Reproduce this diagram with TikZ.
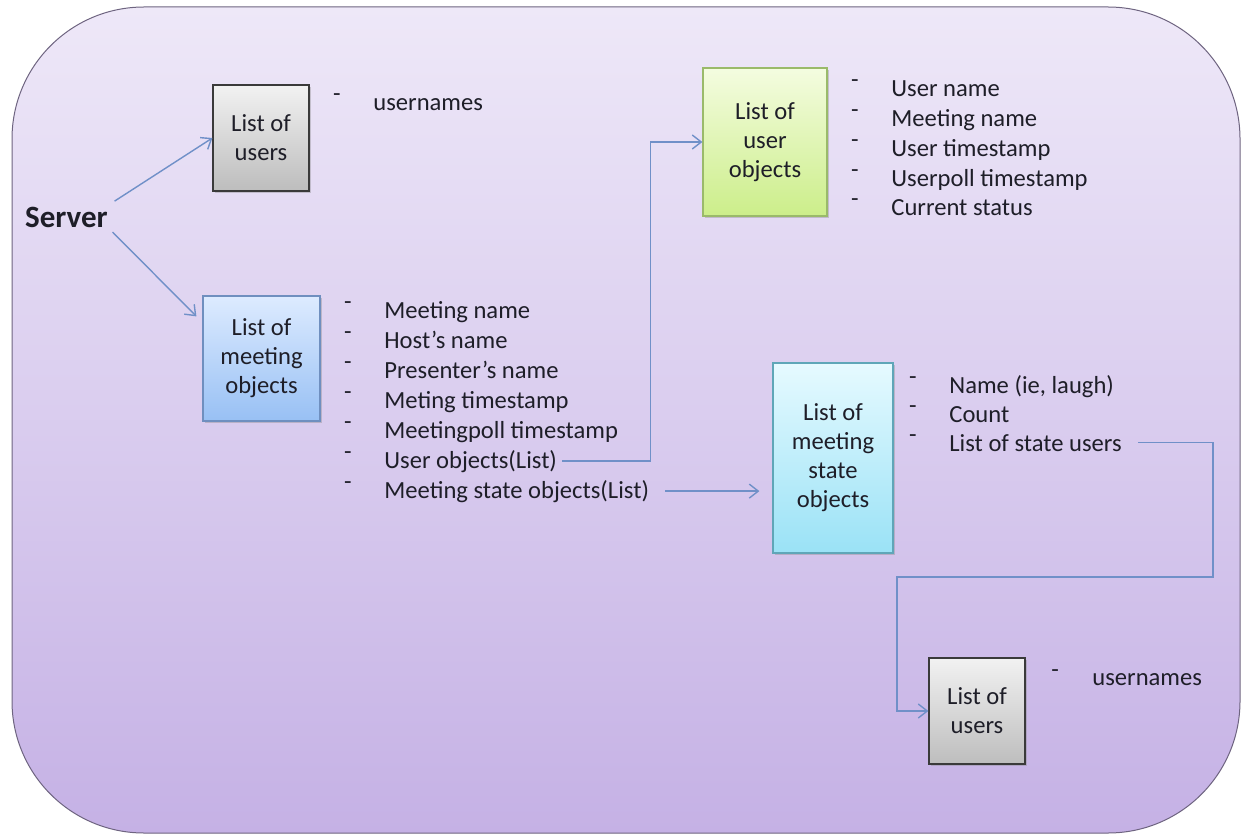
\documentclass[tikz,border=0pt]{standalone}
\usepackage{fontspec}
\setmainfont{Carlito}
\usetikzlibrary{arrows.meta,shadows,calc}
\definecolor{bgtop}{HTML}{EEE8F8}
\definecolor{bgbot}{HTML}{C5B1E5}
\definecolor{bgline}{HTML}{6E6480}
\definecolor{conncol}{HTML}{7090C8}
\definecolor{txtcol}{HTML}{1E1E28}
\definecolor{graytop}{HTML}{F2F2F2}
\definecolor{graybot}{HTML}{BDBDBD}
\definecolor{grayline}{HTML}{3A3A3A}
\definecolor{bluetop}{HTML}{DDEBFF}
\definecolor{bluebot}{HTML}{98C0F4}
\definecolor{blueline}{HTML}{6F8FBF}
\definecolor{greentop}{HTML}{F4FCE0}
\definecolor{greenbot}{HTML}{CCEE8A}
\definecolor{greenline}{HTML}{9ABA6A}
\definecolor{cyantop}{HTML}{E6FAFF}
\definecolor{cyanbot}{HTML}{9AE2F6}
\definecolor{cyanline}{HTML}{5FA6B8}
\begin{document}
\begin{tikzpicture}[x=0.5pt,y=-0.5pt,
  every node/.style={text=txtcol, font=\fontsize{12.3}{14.5}\selectfont},
  objbox/.style={rectangle, align=center, inner sep=0pt, line width=0.6pt,
    drop shadow={shadow xshift=1.2pt, shadow yshift=-1.2pt, opacity=0.35}},
  graybox/.style={objbox, draw=grayline, top color=graytop, bottom color=graybot},
  bluebox/.style={objbox, draw=blueline, top color=bluetop, bottom color=bluebot},
  greenbox/.style={objbox, draw=greenline, top color=greentop, bottom color=greenbot},
  cyanbox/.style={objbox, draw=cyanline, top color=cyantop, bottom color=cyanbot},
  item/.style={anchor=base west, inner sep=0pt},
  dashmark/.style={anchor=base, inner sep=0pt},
  conn/.style={draw=conncol, line width=0.7pt, -{Straight Barb[length=4.5pt,width=7pt]}},
  plainconn/.style={draw=conncol, line width=0.7pt}
]
\useasboundingbox (0,0) rectangle (1241,834);
\shadedraw[top color=bgtop, bottom color=bgbot, draw=bgline, line width=0.5pt,
  rounded corners=66pt] (12,7) rectangle (1240,833);

% Server
\node[font=\bfseries\fontsize{15.5}{18}\selectfont, inner sep=1.5pt] (server) at (66.5,217) {Server};

% Boxes
\node[graybox, minimum width=48pt, minimum height=53pt] (users1) at (261,138) {List of\\users};
\node[bluebox, minimum width=58.5pt, minimum height=62.5pt] (meet) at (261.5,358.5) {List of\\meeting\\objects};
\node[greenbox, minimum width=62pt, minimum height=74pt] (uobj) at (765,142) {List of\\user\\objects};
\node[cyanbox, minimum width=60pt, minimum height=95pt] (state) at (833,458) {List of\\meeting\\state\\objects};
\node[graybox, minimum width=48pt, minimum height=53pt] (users2) at (977,711) {List of\\users};

% Lists
\node[dashmark] (ud1) at (337,102) {-};
\node[item] (u1) at (373,111) {usernames};

\foreach \t [count=\i] in {Meeting name, Host’s name, Presenter’s name, Meting timestamp, Meetingpoll timestamp, User objects(List), Meeting state objects(List)} {
  \node[dashmark] (md\i) at (348,{309+30*(\i-1)}) {-};
  \node[item] (m\i) at (384,{318+30*(\i-1)}) {\t};
}

\foreach \t [count=\i] in {User name, Meeting name, User timestamp, Userpoll timestamp, Current status} {
  \node[dashmark] (od\i) at (855,{88+29.75*(\i-1)}) {-};
  \node[item] (o\i) at (891,{97+29.75*(\i-1)}) {\t};
}

\foreach \t [count=\i] in {{Name (ie, laugh)}, Count, List of state users} {
  \node[dashmark] (sd\i) at (913,{384+29*(\i-1)}) {-};
  \node[item] (s\i) at (949,{393+29*(\i-1)}) {\t};
}

\node[dashmark] (vd1) at (1055,677) {-};
\node[item] (v1) at (1092,685) {usernames};

% Connectors
\draw[conn, shorten <=2pt] (server.north east) -- (users1.west);
\draw[conn, shorten <=1pt] (server.south east) -- ($(meet.north west)+(-6,21)$);
\draw[conn, shorten <=2.5pt] (m6.east) -| ($(uobj.west)+(-52,0)$) -- (uobj.west);
\draw[conn, shorten <=8pt, shorten >=6.5pt] (m7.east) -- (m7.east -| state.west);
\coordinate (c1) at (1213,577);
\coordinate (c2) at (897,577);
\draw[conn, shorten <=8pt] (s3.east) -| (c1) -- (c2) |- (users2.west);
\end{tikzpicture}
\end{document}
